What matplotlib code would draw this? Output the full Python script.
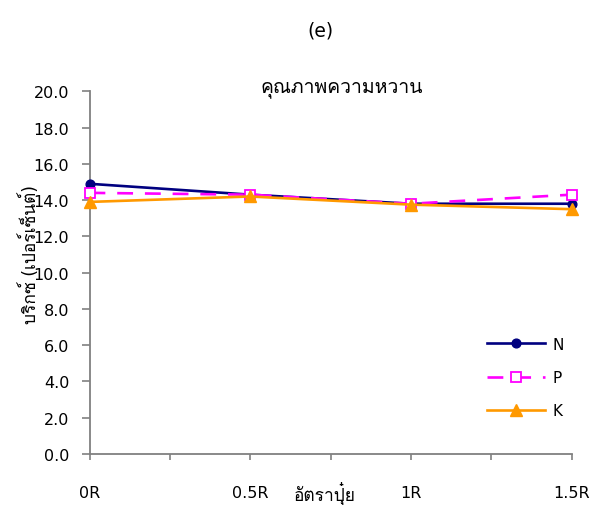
import numpy as np
import matplotlib
matplotlib.use('Agg')
import matplotlib.pyplot as plt

# อัตราปุ๋ย (rate) and brix values for each nutrient
rates = [0, 0.5, 1.0, 1.5]
rate_labels = ['0R', '0.5R', '1R', '1.5R']
brix_n = [14.9, 14.3, 13.8, 13.8]
brix_p = [14.4, 14.3, 13.8, 14.3]
brix_k = [13.9, 14.2, 13.75, 13.5]

thai = ['DejaVu Sans', 'Loma']
grey = '#808080'

fig = plt.figure(figsize=(5.96, 5.06), dpi=100)
ax = fig.add_axes([89.5 / 596, 1 - 455 / 506, 482 / 596, 362.7 / 506])

ax.plot(rates, brix_n, color='#000080', lw=1.9, marker='o', ms=6.3,
        label='N', clip_on=False, zorder=3)
ax.plot(rates, brix_p, color='#FF00FF', lw=1.9, ls=(0, (6, 4.5)), marker='s', ms=7,
        mfc='white', mec='#FF00FF', mew=1.3, label='P', clip_on=False, zorder=4)
ax.plot(rates, brix_k, color='#FF9900', lw=1.9, marker='^', ms=8,
        label='K', clip_on=False, zorder=5)

ax.set_xlim(0, 1.5)
ax.set_ylim(0, 20)
ax.set_xticks(rates)
ax.set_xticklabels(rate_labels)
ax.set_xticks(np.arange(0, 1.51, 0.25), minor=True)
ax.set_yticks(np.arange(0, 20.1, 2))
ax.set_yticklabels(['%.1f' % v for v in np.arange(0, 20.1, 2)])

for s in ['top', 'right']:
    ax.spines[s].set_visible(False)
for s in ['left', 'bottom']:
    ax.spines[s].set_color(grey)
    ax.spines[s].set_linewidth(1.3)

ax.tick_params(axis='y', direction='out', length=6, width=1.2, color=grey,
               pad=8.5, labelsize=11.5)
ax.tick_params(axis='x', which='both', direction='out', length=4.5, width=1.2,
               color=grey, pad=18, labelsize=11.5)

# หัวข้อและชื่อแกน
fig.text(320 / 596, 1 - 31 / 506, '(e)', ha='center', va='center', fontsize=13.5)
fig.text(342 / 596, 1 - 88 / 506, 'คุณภาพความหวาน', ha='center', va='center',
         fontsize=14, family=thai)
fig.text(325 / 596, 1 - 493 / 506, 'อัตราปุ๋ย', ha='center', va='center',
         fontsize=12.5, family=thai)
fig.text(30 / 596, 1 - 255 / 506, 'บริกซ์ (เปอร์เซ็นต์)', ha='center', va='center',
         rotation=90, fontsize=12.5, family=thai)

ax.legend(loc='lower left', bbox_to_anchor=(384 / 482, 0.06), frameon=False,
          fontsize=11, handlelength=3.8, labelspacing=1.2, handletextpad=0.5)

fig.savefig('out.png', dpi=100)
